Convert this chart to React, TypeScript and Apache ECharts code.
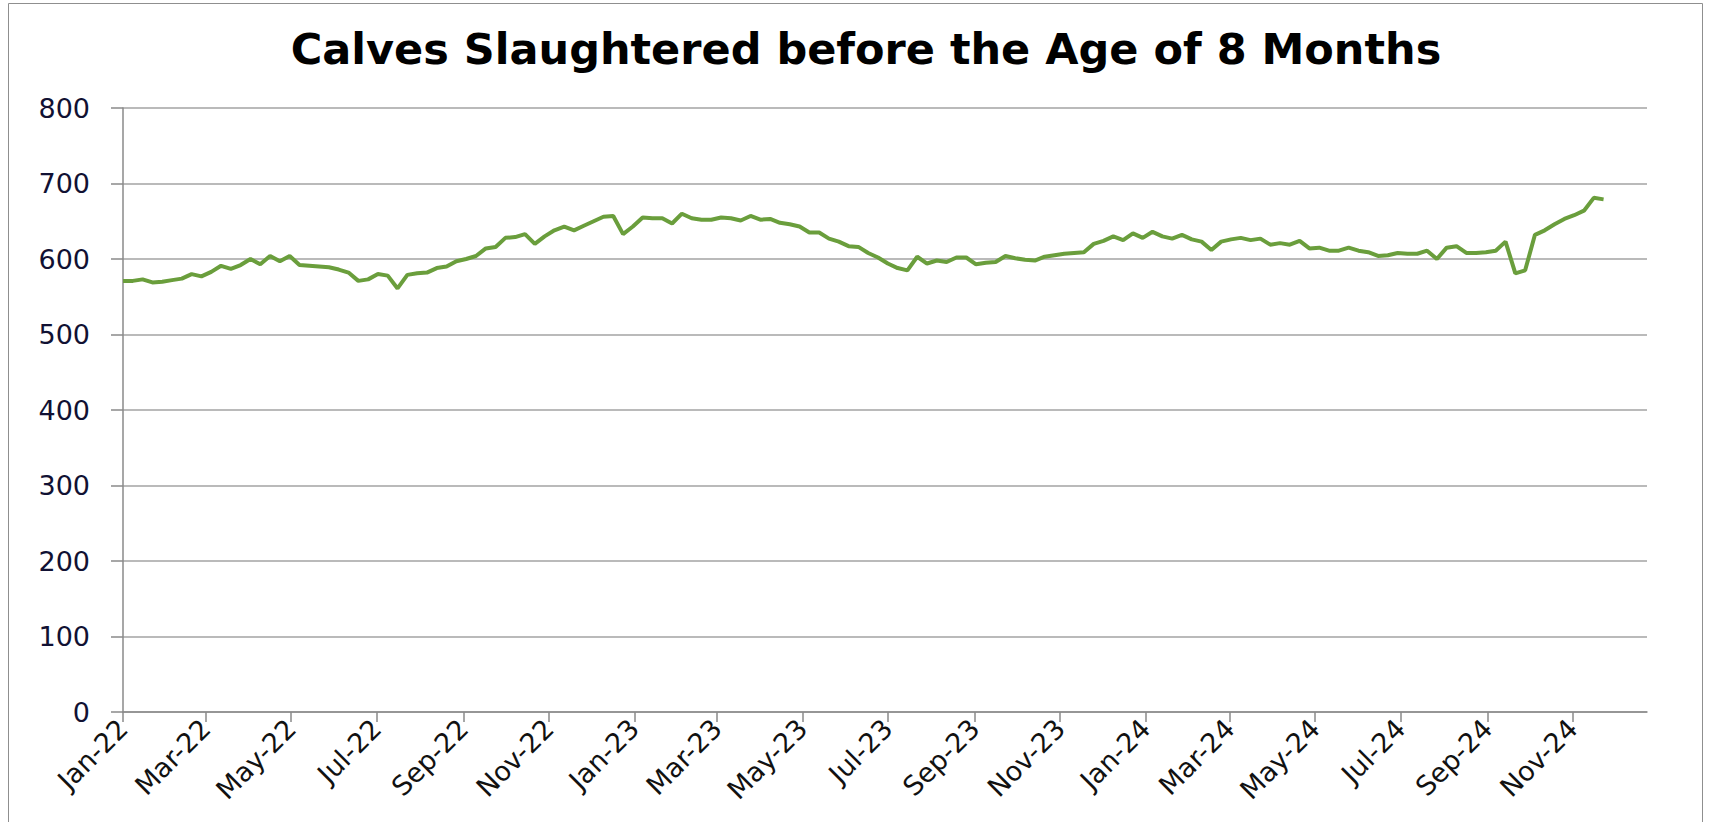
import React, { useEffect, useRef } from "react";
import * as echarts from "echarts";

const TITLE = "Calves Slaughtered before the Age of 8 Months";
const START_DATE = [2022, 0, 1];
const WEEKLY_VALUES = [
  571, 571, 573, 569, 570, 572, 574, 580, 577, 583, 591, 587, 592, 600, 593, 604, 597, 604, 592, 591,
  590, 589, 586, 582, 571, 573, 580, 578, 561, 579, 581,
  582, 588, 590, 597, 600, 604, 614, 616, 628, 629, 633, 620, 630, 638, 643, 638, 644, 650, 656, 657,
  633, 643, 655, 654, 654, 647, 660, 654, 652, 652,
  655, 654, 651, 657, 652, 653, 648, 646, 643, 635, 635, 627, 623, 617, 616, 608, 602, 594, 588, 585,
  603, 594, 598, 596, 602, 602, 593, 595, 596, 604, 601,
  599, 598, 603, 605, 607, 608, 609, 620, 624, 630, 625, 634, 628, 636, 630, 627, 632, 626, 623, 612,
  623, 626, 628, 625, 627, 619, 621, 619, 624, 614, 615,
  611, 611, 615, 611, 609, 604, 605, 608, 607, 607, 611, 600, 615, 617, 608, 608, 609, 611, 623, 581,
  585, 632, 638, 646, 653, 658, 664, 681, 679,
];
const TICK_LABELS = [
  "Jan-22", "Mar-22", "May-22", "Jul-22", "Sep-22", "Nov-22",
  "Jan-23", "Mar-23", "May-23", "Jul-23", "Sep-23", "Nov-23",
  "Jan-24", "Mar-24", "May-24", "Jul-24", "Sep-24", "Nov-24",
];
const MONTH_NAMES = ["Jan", "Feb", "Mar", "Apr", "May", "Jun", "Jul", "Aug", "Sep", "Oct", "Nov", "Dec"];
const Y_MIN = 0;
const Y_MAX = 800;
const Y_STEP = 100;
const X_MAX_DAYS = 1088;

const DAY_MS = 86400000;
const START_MS = Date.UTC(START_DATE[0], START_DATE[1], START_DATE[2]);
const TICK_DAYS = TICK_LABELS.map((lab) => {
  const [m, y] = lab.split("-");
  const t = Date.UTC(2000 + Number(y), MONTH_NAMES.indexOf(m), 1);
  return Math.round((t - START_MS) / DAY_MS);
});

export default function App() {
  const ref = useRef<HTMLDivElement>(null);
  useEffect(() => {
    if (!ref.current) return;
    const chart = echarts.init(ref.current, undefined, { renderer: "svg" });
    const font = "'DejaVu Sans', sans-serif";
    chart.setOption({
      animation: false,
      backgroundColor: "#ffffff",
      title: {
        text: TITLE,
        left: 861,
        textAlign: "center",
        top: 22,
        textStyle: { fontFamily: font, fontWeight: "bold", fontSize: 43, color: "#000000" },
      },
      graphic: [
        {
          type: "rect",
          shape: { x: 8.5, y: 3.5, width: 1694, height: 900 },
          style: { fill: "none", stroke: "#8f8f8f", lineWidth: 1 },
          silent: true,
        },
      ],
      grid: { left: 123, right: 72, top: 108, bottom: 110 },
      xAxis: {
        type: "value",
        min: 0,
        max: X_MAX_DAYS,
        axisLine: { show: true, lineStyle: { color: "#8a8a8a", width: 1.5 } },
        axisTick: { show: true, length: 10, customValues: TICK_DAYS, lineStyle: { color: "#8a8a8a", width: 1.5 } },
        axisLabel: {
          customValues: TICK_DAYS,
          rotate: 45,
          margin: 12,
          fontFamily: font,
          fontSize: 27,
          color: "#111111",
          formatter: (v: number) => {
            const idx = TICK_DAYS.indexOf(Math.round(v));
            return idx >= 0 ? TICK_LABELS[idx] : "";
          },
        },
        splitLine: { show: false },
      },
      yAxis: {
        type: "value",
        min: Y_MIN,
        max: Y_MAX,
        interval: Y_STEP,
        axisLine: { show: true, lineStyle: { color: "#8a8a8a", width: 1.5 } },
        axisTick: { show: true, length: 12, lineStyle: { color: "#8a8a8a", width: 1.5 } },
        axisLabel: { margin: 33, fontFamily: font, fontSize: 27, color: "#111133" },
        splitLine: { show: true, lineStyle: { color: "#a3a3a3", width: 1.5 } },
      },
      series: [
        {
          type: "line",
          data: WEEKLY_VALUES.map((v, i) => [i * 7, v]),
          showSymbol: false,
          symbol: "none",
          smooth: false,
          lineStyle: { color: "#6a9e3c", width: 4 },
          itemStyle: { color: "#6a9e3c" },
        },
      ],
    });
    return () => chart.dispose();
  }, []);
  return (
    <div
      ref={ref}
      style={{ position: "fixed", left: 0, top: 0, width: 1719, height: 822, background: "#fff" }}
    />
  );
}
